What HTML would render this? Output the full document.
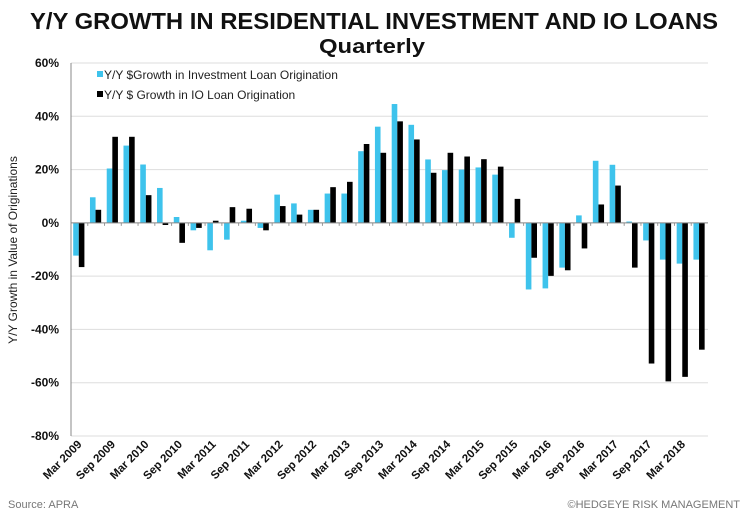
<!DOCTYPE html>
<html><head><meta charset="utf-8"><style>
body{margin:0;background:#fff;}
svg{display:block;font-family:"Liberation Sans",sans-serif;}
</style></head><body>
<svg id="chart" width="748" height="515">
<text x="374" y="29" text-anchor="middle" font-size="23" font-weight="bold" fill="#111" textLength="688" lengthAdjust="spacingAndGlyphs">Y/Y GROWTH IN RESIDENTIAL INVESTMENT AND IO LOANS</text>
<text x="372" y="53" text-anchor="middle" font-size="20" font-weight="bold" fill="#111" textLength="106" lengthAdjust="spacingAndGlyphs">Quarterly</text>
<text transform="translate(17,250) rotate(-90)" text-anchor="middle" font-size="12" fill="#222">Y/Y Growth in Value of Originations</text>
<g id="grid"></g><g id="bars"></g><g id="axes"></g>
<g>
<rect x="97" y="71" width="6" height="6" fill="#3ec3ec"/>
<text x="104" y="79" font-size="12" fill="#222">Y/Y $Growth in Investment Loan Origination</text>
<rect x="97" y="91" width="6" height="6" fill="#000"/>
<text x="104" y="99" font-size="12" fill="#222">Y/Y $ Growth in IO Loan Origination</text>
</g>
<text x="8" y="508" font-size="11" fill="#777">Source: APRA</text>
<text x="740" y="508" text-anchor="end" font-size="11" fill="#777">©HEDGEYE RISK MANAGEMENT</text>
</svg>
<script>
const categories=["Mar 2009","Jun 2009","Sep 2009","Dec 2009","Mar 2010","Jun 2010","Sep 2010","Dec 2010","Mar 2011","Jun 2011","Sep 2011","Dec 2011","Mar 2012","Jun 2012","Sep 2012","Dec 2012","Mar 2013","Jun 2013","Sep 2013","Dec 2013","Mar 2014","Jun 2014","Sep 2014","Dec 2014","Mar 2015","Jun 2015","Sep 2015","Dec 2015","Mar 2016","Jun 2016","Sep 2016","Dec 2016","Mar 2017","Jun 2017","Sep 2017","Dec 2017","Mar 2018","Jun 2018"];
const investment=[-12.3,9.6,20.4,29,21.9,13.1,2.2,-2.8,-10.3,-6.3,0.8,-1.9,10.6,7.3,4.9,11,11,26.9,36.1,44.6,36.8,23.8,19.8,20,20.8,18.1,-5.6,-25,-24.6,-16.8,2.8,23.3,21.8,0.5,-6.6,-13.8,-15.3,-13.8];
const io=[-16.6,4.9,32.3,32.3,10.4,-0.8,-7.5,-1.9,0.8,5.9,5.3,-2.8,6.3,3.1,4.9,13.4,15.4,29.6,26.3,38.1,31.3,18.8,26.3,24.9,23.9,21.1,9,-13.1,-19.9,-17.8,-9.6,6.9,14,-16.8,-52.8,-59.5,-57.8,-47.6];
const yTicks=[60,40,20,0,-20,-40,-60,-80];
const NS="http://www.w3.org/2000/svg";
const x0=71,x1=708,yTop=63,yBot=436,vMax=60,vMin=-80;
const band=(x1-x0)/categories.length;
function y(v){return yTop+(vMax-v)/(vMax-vMin)*(yBot-yTop);}
function xb(i){return x0+i*band;}
function mk(tag,attrs,parent){const e=document.createElementNS(NS,tag);for(const k in attrs)e.setAttribute(k,attrs[k]);parent.appendChild(e);return e;}
const grid=document.getElementById('grid'),bars=document.getElementById('bars'),axes=document.getElementById('axes');
yTicks.forEach(t=>{
 const l=mk('line',{x1:x0,x2:x1,y1:y(t),y2:y(t),stroke:'#ddd','stroke-width':1},grid);
 
 
 const tx=mk('text',{x:59,y:y(t)+4,'text-anchor':'end','font-size':12,'font-weight':'bold',fill:'#111'},axes);
 tx.textContent=t+'%';
 
 
});
const bw=5.6;
categories.forEach((c,i)=>{
 const bx=xb(i)+2.2;
 [[investment[i],'#3ec3ec',bx,'bar-investment'],[io[i],'#000',bx+bw,'bar-io']].forEach(([v,col,xx,nm])=>{
  const r=mk('rect',{x:xx,y:Math.min(y(v),y(0)),width:bw,height:Math.abs(y(v)-y(0)),fill:col},bars);
  
  
 });
 const tk=mk('line',{x1:xb(i),x2:xb(i),y1:y(0),y2:y(0)+3,stroke:'#999'},axes);
 
 
 if(i%2===0){
  const cx=xb(i)+band/2+3;
  const tx=mk('text',{x:0,y:0,'text-anchor':'end','font-size':11.5,'font-weight':'bold',fill:'#111',transform:`translate(${cx},${yBot+9}) rotate(-45)`},axes);
  tx.textContent=c;
  
  
 }
});
const za=mk('line',{x1:x0,x2:x1,y1:y(0),y2:y(0),stroke:'#888'},axes);


const ya=mk('line',{x1:x0,x2:x0,y1:yTop,y2:yBot,stroke:'#888'},axes);


</script>
</body></html>
